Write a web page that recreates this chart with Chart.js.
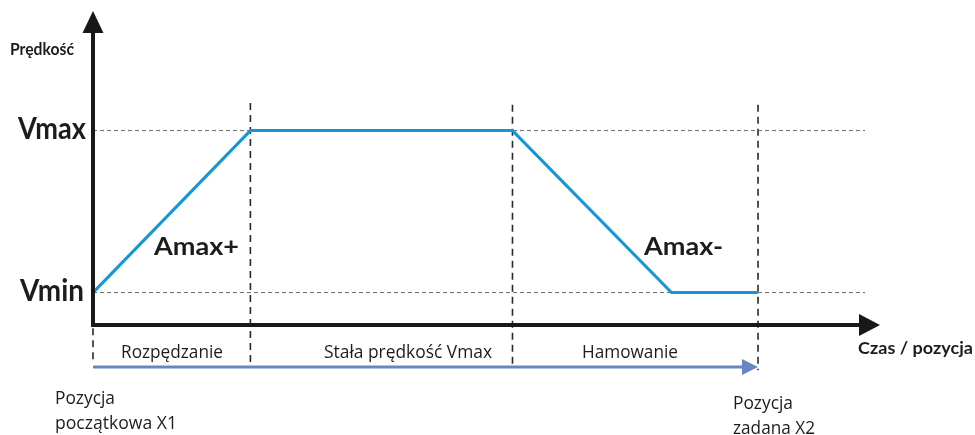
<!DOCTYPE html>
<html>
<head>
<meta charset="utf-8">
<script src="https://cdn.jsdelivr.net/npm/chart.js@4/dist/chart.umd.min.js"></script>
<style>
  html, body { margin: 0; padding: 0; background: #fff; }
  #wrap { width: 975px; height: 435px; }
</style>
</head>
<body>
<div id="wrap"><canvas id="profil" width="975" height="435"></canvas></div>
<script>
// granice faz ruchu (czas w umownych jednostkach) i predkosc w tych punktach
const fazyT = [0, 2, 5.33, 7.35, 8.45];
const profilV = [0.2, 1.2, 1.2, 0.2, 0.2];
const poziomyNazwy = ['Vmin', 'Vmax'];
const poziomyV = [0.2, 1.2];
const fazyNazwy = ['Rozpędzanie', 'Stała prędkość Vmax', 'Hamowanie'];
const przyspNazwy = ['Amax+', 'Amax-'];
const osY = 'Prędkość';
const osX = 'Czas / pozycja';
const pozycjaStart = ['Pozycja', 'początkowa X1'];
const pozycjaKoniec = ['Pozycja', 'zadana X2'];

const tKoniecOsi = 10;
const tKoniecLinii = 9.81;
const vStrzalka = -0.26;

const TXT = '#1f1b1c';
const FONT_B = 'Lato, "Open Sans", sans-serif';
const FONT_R = '"Open Sans", Lato, sans-serif';

function pts(xs, ys) {
    return xs.map((x, i) => ({ x: x, y: ys[i] }));
}

// tekst dopasowany do szerokosci (Calibri jest wezsza)
function napis(ctx, txt, x, y, size, bold, szer, align) {
    ctx.save();
    ctx.font = bold ? 'bold ' + size + 'px ' + FONT_B : size + 'px ' + FONT_R;
    ctx.fillStyle = TXT;
    ctx.textBaseline = 'middle';
    const w = ctx.measureText(txt).width;
    const s = szer ? szer / w : 1;
    let x0 = x;
    if (align === 'right') x0 = x - w * s;
    if (align === 'center') x0 = x - w * s / 2;
    ctx.translate(x0, y);
    ctx.scale(s, 1);
    ctx.textAlign = 'left';
    ctx.fillText(txt, 0, 0);
    ctx.restore();
}

const datasets = [];

// profil predkosci
datasets.push({
    data: pts(fazyT, profilV),
    borderColor: '#1796d6',
    borderWidth: 3,
    pointRadius: 0,
    tension: 0
});

// strzalka pozycji (linia, grot w pluginie)
datasets.push({
    data: [{ x: 0, y: vStrzalka }, { x: fazyT[4] - 0.19, y: vStrzalka }],
    borderColor: '#6886c4',
    borderWidth: 3,
    pointRadius: 0
});

// przerywane poziomy Vmin / Vmax
poziomyV.forEach(v => {
    datasets.push({
        data: [{ x: 0, y: v }, { x: tKoniecLinii, y: v }],
        borderColor: '#6a6a6a',
        borderWidth: 1,
        borderDash: [4, 3],
        pointRadius: 0
    });
});

// przerywane pionowe granice faz
const pionGora = [-0.02, 1.37, 1.36, null, 1.36];
const pionDol = [-0.22, -0.25, -0.25, null, -0.28];
fazyT.forEach((t, i) => {
    if (pionGora[i] === null) return;
    datasets.push({
        data: [{ x: t, y: pionGora[i] }, { x: t, y: pionDol[i] }],
        borderColor: '#2a2a2a',
        borderWidth: 1.6,
        borderDash: [7, 5],
        pointRadius: 0
    });
});

const opisy = {
    id: 'opisy',
    afterDatasetsDraw(chart) {
        const ctx = chart.ctx;
        const sx = chart.scales.x, sy = chart.scales.y;
        const x0 = sx.getPixelForValue(0);
        const y0 = sy.getPixelForValue(0);
        const xEnd = sx.getPixelForValue(tKoniecOsi);

        ctx.save();
        ctx.fillStyle = '#1a1718';
        ctx.strokeStyle = '#1a1718';
        ctx.lineWidth = 4;
        // os Y
        ctx.beginPath();
        ctx.moveTo(x0, y0 + 2);
        ctx.lineTo(x0, 30);
        ctx.stroke();
        ctx.beginPath();
        ctx.moveTo(x0, 11);
        ctx.lineTo(x0 - 10.5, 33);
        ctx.lineTo(x0 + 10.5, 33);
        ctx.closePath();
        ctx.fill();
        // os X
        ctx.beginPath();
        ctx.moveTo(x0 - 2, y0);
        ctx.lineTo(xEnd - 18, y0);
        ctx.stroke();
        ctx.beginPath();
        ctx.moveTo(xEnd, y0);
        ctx.lineTo(xEnd - 21, y0 - 11);
        ctx.lineTo(xEnd - 21, y0 + 11);
        ctx.closePath();
        ctx.fill();

        // grot niebieskiej strzalki
        const ax = sx.getPixelForValue(fazyT[4]);
        const ay = sy.getPixelForValue(vStrzalka);
        ctx.fillStyle = '#6886c4';
        ctx.beginPath();
        ctx.moveTo(ax, ay);
        ctx.lineTo(ax - 16, ay - 8);
        ctx.lineTo(ax - 16, ay + 8);
        ctx.closePath();
        ctx.fill();
        ctx.restore();

        // poziomy
        poziomyV.forEach((v, i) => {
            const y = sy.getPixelForValue(v);
            napis(ctx, poziomyNazwy[i], i === 1 ? 86 : 84, y - 1, 30, true, i === 1 ? 68 : 64, 'right');
        });

        // przyspieszenia
        napis(ctx, przyspNazwy[0], 154, 247, 25, true, 85);
        napis(ctx, przyspNazwy[1], 644, 247, 25, true, 79);

        // nazwy osi
        napis(ctx, osY, 10, 49, 17.5, true, 64);
        napis(ctx, osX, 858, 348, 17.5, true, 115);

        // fazy
        const szer = [102, 168, 96];
        fazyNazwy.forEach((n, i) => {
            napis(ctx, n, [172, 408, 630][i], 353, 17.5, false, szer[i], 'center');
        });

        // pozycje
        napis(ctx, pozycjaStart[0], 55, 399, 17.5, false, 60);
        napis(ctx, pozycjaStart[1], 55, 424, 17.5, false, 122);
        napis(ctx, pozycjaKoniec[0], 733, 404, 17.5, false, 60);
        napis(ctx, pozycjaKoniec[1], 733, 429, 17.5, false, 82);
    }
};

new Chart(document.getElementById('profil').getContext('2d'), {
    type: 'line',
    data: { datasets: datasets },
    options: {
        responsive: false,
        animation: false,
        devicePixelRatio: 1,
        layout: { padding: 0 },
        plugins: { legend: { display: false }, tooltip: { enabled: false } },
        scales: {
            x: { type: 'linear', min: -1.1817, max: 11.207, display: false },
            y: { type: 'linear', min: -0.679, max: 2.006, display: false }
        }
    },
    plugins: [opisy]
});
</script>
</body>
</html>
